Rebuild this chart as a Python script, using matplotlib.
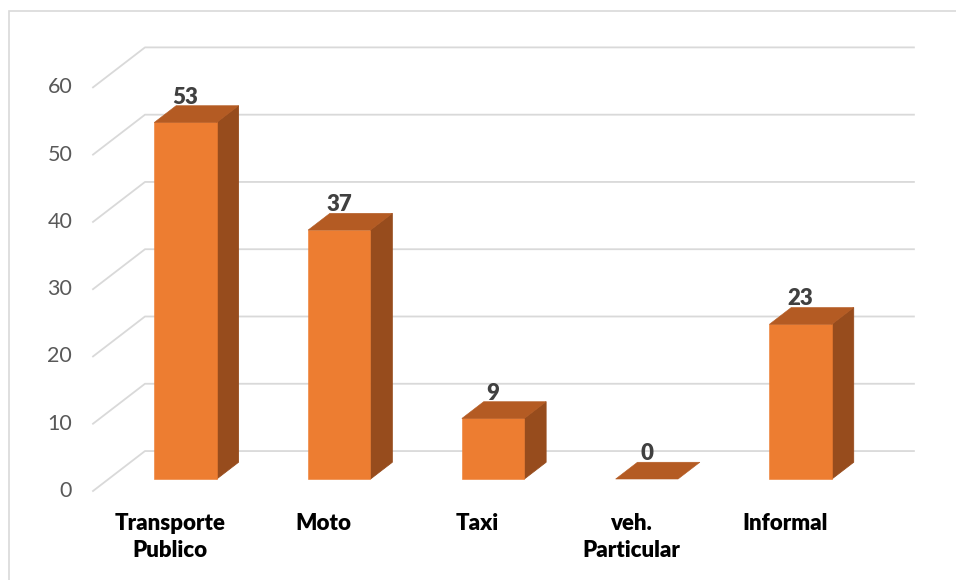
import matplotlib.pyplot as plt
from matplotlib.patches import Polygon, Rectangle

# data
categories = ['Transporte\nPublico', 'Moto', 'Taxi', 'veh.\nParticular', 'Informal']
values = [53, 37, 9, 0, 23]
yticks = [0, 10, 20, 30, 40, 50, 60]

# colours
front_col = '#ED7D31'
top_col = '#B45B23'
side_col = '#974C1D'
grid_col = '#D9D9D9'

plt.rcParams['font.family'] = ['Lato', 'DejaVu Sans']

fig = plt.figure(figsize=(9.56, 5.8), dpi=100)
ax = fig.add_axes([93 / 956, 89 / 580, 822 / 956, 444 / 580])
ax.set_xlim(-0.5, 4.845)
ax.set_ylim(0, 66)
ax.axis('off')

# depth of the 3d box in data units
DX, DY = 0.338, 5.94
f0, f1 = 0.30, 0.72     # bar front / back as fraction of depth
bw = 0.406
n = len(categories)

# walls gridlines
for v in yticks:
    ax.plot([-0.5, -0.5 + DX, n - 0.5 + DX], [v, v + DY, v + DY],
            color=grid_col, lw=1.3, zorder=1, clip_on=False)
    ax.annotate(str(v), (-0.5, v), xytext=(-15, 0), textcoords='offset points',
                ha='right', va='center', fontsize=15.5, color='#595959')

for i, (cat, v) in enumerate(zip(categories, values)):
    x0 = i - bw / 2 + f0 * DX
    x1 = i + bw / 2 + f0 * DX
    yb = f0 * DY
    yt = yb + v
    ddx = (f1 - f0) * DX
    ddy = (f1 - f0) * DY
    if v > 0:
        ax.add_patch(Polygon([(x1, yb), (x1, yt), (x1 + ddx, yt + ddy), (x1 + ddx, yb + ddy)],
                             closed=True, facecolor=side_col, edgecolor=side_col,
                             lw=0.6, zorder=3))
        ax.add_patch(Rectangle((x0, yb), x1 - x0, v, facecolor=front_col,
                               edgecolor=front_col, lw=0.4, zorder=3))
    ax.add_patch(Polygon([(x0, yt), (x1, yt), (x1 + ddx, yt + ddy), (x0 + ddx, yt + ddy)],
                         closed=True, facecolor=top_col, edgecolor=top_col,
                         lw=0.4, zorder=3))
    ax.annotate(str(v), ((x0 + x1) / 2, yt + ddy), xytext=(0, 1.5),
                textcoords='offset points', ha='center', va='baseline',
                fontsize=16, fontweight='heavy', color='#404040', zorder=4)
    ax.annotate(cat, (i, 0), xytext=(0, -16), textcoords='offset points',
                ha='center', va='top', fontsize=16, fontweight='heavy',
                color='black', linespacing=1.35)

# chart border
fig.patches.append(Rectangle((9 / 956, -0.05), 1.0, (580 - 11) / 580 + 0.05,
                             transform=fig.transFigure, fill=False,
                             edgecolor=grid_col, lw=1.2))

fig.savefig('out.png', dpi=100)
